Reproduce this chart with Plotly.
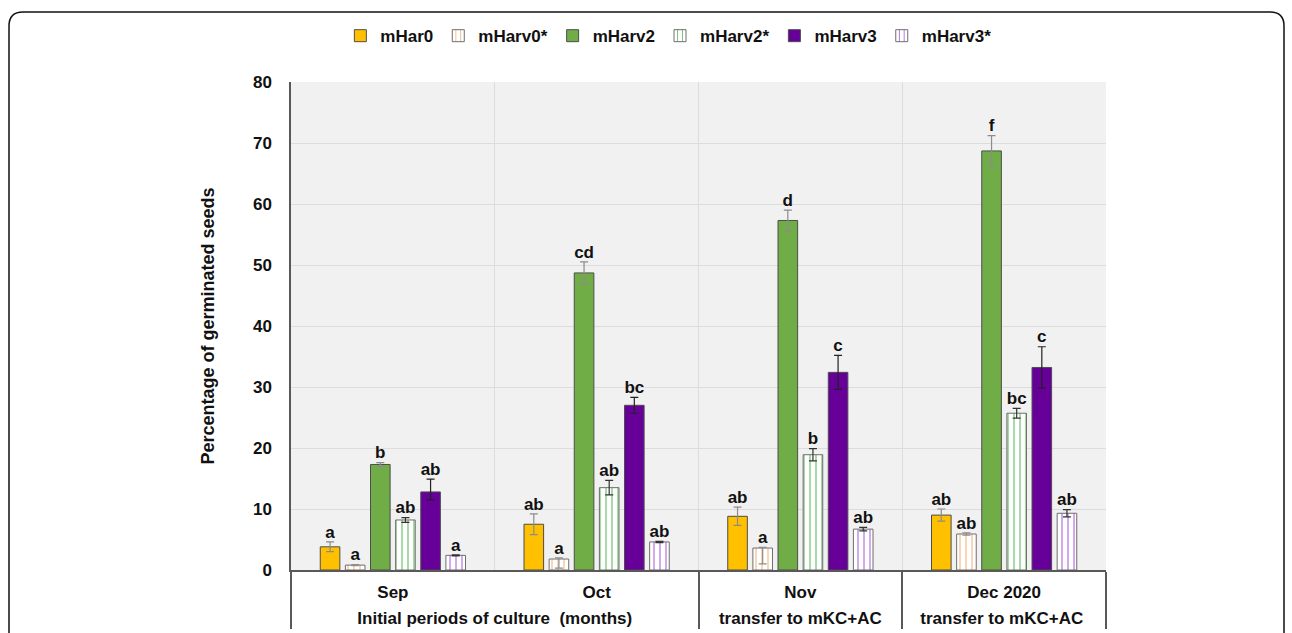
import plotly.graph_objects as go

# ---- data ----
groups = ["Initial periods of culture  (months)", "Initial periods of culture  (months)",
          "transfer to mKC+AC", "transfer to mKC+AC "]
months = ["Sep", "Oct", "Nov", "Dec 2020"]

series_names = ["mHar0", "mHarv0*", "mHarv2", "mHarv2*", "mHarv3", "mHarv3*"]

mHar0 = [3.8, 7.5, 8.8, 9.0]
mHarv0s = [0.8, 1.8, 3.6, 5.9]
mHarv2 = [17.3, 48.7, 57.3, 68.7]
mHarv2s = [8.2, 13.5, 18.9, 25.7]
mHarv3 = [12.8, 27.0, 32.4, 33.2]
mHarv3s = [2.4, 4.6, 6.7, 9.3]

err_plus = {
    "mHar0": [0.8, 1.7, 1.5, 1.0],
    "mHarv0*": [0.1, 0.2, 0.1, 0.2],
    "mHarv2": [0.3, 1.8, 1.7, 2.5],
    "mHarv2*": [0.4, 1.2, 1.0, 0.8],
    "mHarv3": [2.1, 1.3, 2.8, 3.4],
    "mHarv3*": [0.1, 0.1, 0.3, 0.6],
}
err_minus = {
    "mHar0": [0.8, 1.7, 1.5, 1.0],
    "mHarv0*": [0.1, 1.5, 2.6, 0.2],
    "mHarv2": [0.3, 1.8, 1.7, 2.5],
    "mHarv2*": [0.4, 1.2, 1.0, 0.8],
    "mHarv3": [1.3, 1.3, 2.8, 3.4],
    "mHarv3*": [0.1, 0.1, 0.3, 0.6],
}
letters = {
    "mHar0": ["a", "ab", "ab", "ab"],
    "mHarv0*": ["a", "a", "a", "ab"],
    "mHarv2": ["b", "cd", "d", "f"],
    "mHarv2*": ["ab", "ab", "b", "bc"],
    "mHarv3": ["ab", "bc", "c", "c"],
    "mHarv3*": ["a", "ab", "ab", "ab"],
}
values = {"mHar0": mHar0, "mHarv0*": mHarv0s, "mHarv2": mHarv2,
          "mHarv2*": mHarv2s, "mHarv3": mHarv3, "mHarv3*": mHarv3s}

# ---- styles ----
solid_colors = {"mHar0": "#FFC000", "mHarv2": "#70AD47", "mHarv3": "#660099"}
pattern_colors = {"mHarv0*": "#F4A460", "mHarv2*": "#3DAA3D", "mHarv3*": "#A040D0"}
err_colors = {"mHar0": "#8C8C8C", "mHarv0*": "#8C8C8C", "mHarv2": "#8C8C8C",
              "mHarv2*": "#333333", "mHarv3": "#222222", "mHarv3*": "#333333"}

FONT = "Liberation Sans, Arial, sans-serif"
# invisible large-font spaces around month labels widen the gap between label rows
pad = "<span style='font-size:27px'>&nbsp;</span>"
month_labels = [pad + m + pad for m in months]
x = [groups, month_labels]

fig = go.Figure()
for name in series_names:
    if name in solid_colors:
        marker = dict(color=solid_colors[name], line=dict(color="#4D4D4D", width=1))
    else:
        marker = dict(color="white", line=dict(color="#6E6E6E", width=1),
                      pattern=dict(shape="|", fgcolor=pattern_colors[name], bgcolor="white",
                                   size=6, solidity=0.15, fillmode="replace"))
    fig.add_trace(go.Bar(
        name=name, x=x, y=values[name], marker=marker,
        offsetgroup=name, alignmentgroup="g",
        error_y=dict(type="data", symmetric=False, array=err_plus[name],
                     arrayminus=err_minus[name], color=err_colors[name],
                     thickness=1.2, width=4),
    ))

for name in series_names:
    tops = [v + e for v, e in zip(values[name], err_plus[name])]
    fig.add_trace(go.Scatter(
        x=x, y=tops, mode="text", text=letters[name], textposition="top center",
        textfont=dict(family=FONT, size=17, color="#111111", weight="bold"),
        offsetgroup=name, alignmentgroup="g", showlegend=False, hoverinfo="skip",
        cliponaxis=False,
    ))

# outer rounded frame (paper coords relative to plot area 815x488 px)
W, H = 815.0, 488.0
x0, x1 = (9 - 291) / W, (1284 - 291) / W
yt, yb = (570 - 12) / H, (570 - 660) / H
rx, ry = 14 / W, 14 / H
frame = (f"M {x0},{yb} L {x0},{yt - ry} Q {x0},{yt} {x0 + rx},{yt} "
         f"L {x1 - rx},{yt} Q {x1},{yt} {x1},{yt - ry} L {x1},{yb}")

fig.update_layout(
    width=1292, height=633,
    margin=dict(l=291, r=186, t=82, b=63),
    paper_bgcolor="white", plot_bgcolor="#F1F1F1",
    barmode="group", bargap=0.26, bargroupgap=0.22, scattermode="group",
    font=dict(family=FONT, size=15, color="#111111"),
    showlegend=True,
    legend=dict(orientation="h", x=0.463, y=1.094, xanchor="center", yanchor="middle",
                font=dict(family=FONT, size=17, color="#111111", weight="bold"),
                itemwidth=30, tracegroupgap=0, bgcolor="rgba(0,0,0,0)"),
    shapes=[dict(type="path", xref="paper", yref="paper", path=frame,
                 line=dict(color="#111111", width=1.5), layer="above")],
)

fig.update_xaxes(
    type="multicategory", showgrid=True, gridcolor="#DCDCDC", gridwidth=1,
    tickson="boundaries", ticks="", showline=True, linecolor="#595959", linewidth=1.5,
    showdividers=True, dividercolor="#595959", dividerwidth=1.5,
    tickfont=dict(family=FONT, size=17, color="#111111", weight="bold"),
    ticklabelstandoff=6,
    automargin=False, zeroline=False,
)
fig.update_yaxes(
    range=[0, 80], dtick=10, showgrid=True, gridcolor="#DCDCDC", gridwidth=1,
    showline=True, linecolor="#595959", linewidth=1.5, ticks="", zeroline=False,
    tickfont=dict(family=FONT, size=17, color="#111111", weight="bold"),
    ticklabelstandoff=14,
    title=dict(text="Percentage of germinated seeds", standoff=34,
               font=dict(family=FONT, size=18, color="#111111", weight="bold")),
    automargin=False,
)

fig.write_html("out.html")
